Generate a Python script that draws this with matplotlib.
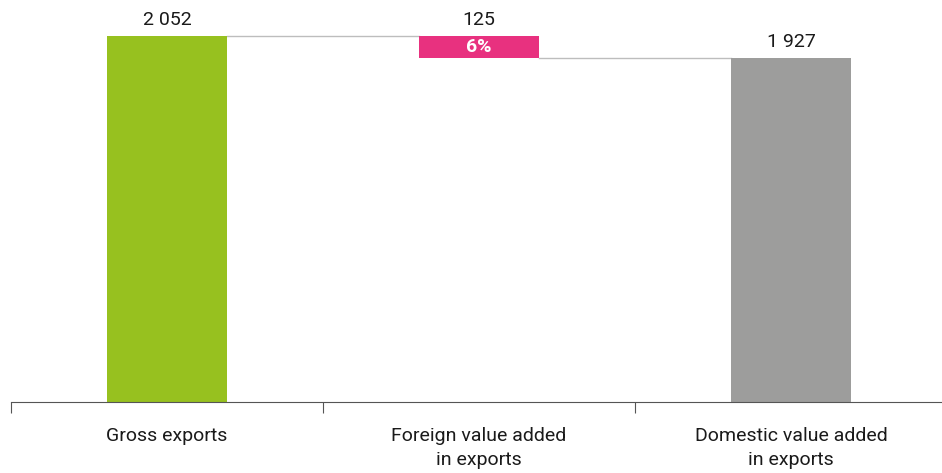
import matplotlib.pyplot as plt

categories = ["Gross exports", "Foreign value added\nin exports", "Domestic value added\nin exports"]
values = [2052, 125, 1927]
value_labels = ["2 052", "125", "1 927"]
share_label = "6%"

green = "#97C11F"
pink = "#E8317F"
grey = "#9D9D9C"

plt.rcParams["font.family"] = ["Roboto", "DejaVu Sans"]

fig = plt.figure(figsize=(9.42, 4.73), dpi=100)
ax = fig.add_axes([11 / 942, 71 / 473, 931 / 942, 402 / 473])

gross, foreign, domestic = values
width = 0.385
bottoms = [0, gross - foreign, 0]
heights = [gross, foreign, domestic]
colors = [green, pink, grey]
xs = range(len(categories))

ax.bar(xs, heights, bottom=bottoms, width=width, color=colors, zorder=2)

# connectors between the waterfall steps
ax.plot([0 + width / 2, 1 - width / 2], [gross, gross], color="#BDBDBD", lw=1, zorder=1)
ax.plot([1 + width / 2, 2 - width / 2], [gross - foreign, domestic], color="#BDBDBD", lw=1, zorder=1)

for x, b, h, lab in zip(xs, bottoms, heights, value_labels):
    ax.annotate(lab, (x, b + h), xytext=(0, 5), textcoords="offset points",
                ha="center", va="bottom", fontsize=14, color="#1a1a1a")

ax.text(1, gross - foreign / 2, share_label, ha="center", va="center",
        fontsize=14, fontweight="bold", color="white", zorder=3)

ax.set_xlim(-0.5, -0.5 + 931 / 312)
ax.set_ylim(0, gross * 402 / 366)

for side in ["top", "right", "left"]:
    ax.spines[side].set_visible(False)
ax.spines["bottom"].set_color("#555555")
ax.set_yticks([])

ax.set_xticks([-0.5, 0.5, 1.5])
ax.set_xticklabels([])
ax.tick_params(axis="x", direction="out", length=8, color="#555555")
ax.set_xticks(list(xs), minor=True)
ax.set_xticklabels(categories, minor=True, fontsize=14, color="#1a1a1a", linespacing=1.45)
ax.tick_params(axis="x", which="minor", length=0, pad=18)

fig.savefig("out.png", dpi=100)
